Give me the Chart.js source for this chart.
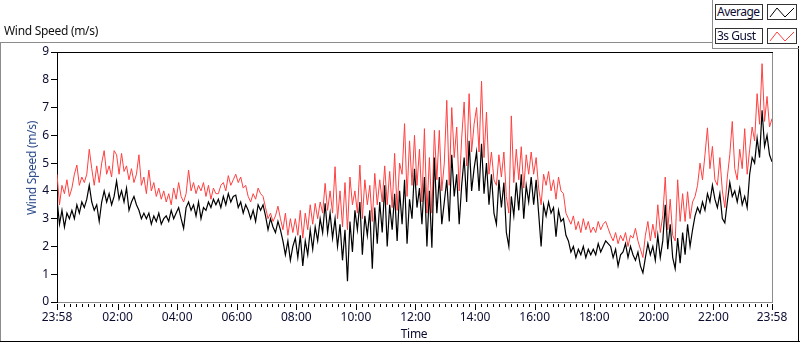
<!DOCTYPE html>
<html>
<head>
<meta charset="utf-8">
<script src="https://cdn.jsdelivr.net/npm/chart.js@4/dist/chart.umd.min.js"></script>
<style>
  html, body { margin: 0; padding: 0; background: #fff; }
  #wrap { position: relative; width: 800px; height: 342px; overflow: hidden; font-family: "Noto Sans", "Open Sans", sans-serif; }
  #c { position: absolute; left: 0; top: 0; }
  .ln { position: absolute; }
  .txt { position: absolute; font-size: 12px; line-height: 14px; white-space: nowrap; color: #111; letter-spacing: -0.3px; }
  .lbox { position: absolute; box-sizing: border-box; border: 1px solid #333; background: #fff; font-size: 12px; line-height: 13px; padding-left: 1px; color: #0c0c30; white-space: nowrap; letter-spacing: -0.5px; overflow: hidden; }
  .ibox { position: absolute; box-sizing: border-box; border: 1px solid #333; background: #fff; }
</style>
</head>
<body>
<div id="wrap">
  <canvas id="c" width="800" height="342"></canvas>
  <!-- outer frame -->
  <div class="ln" style="left:0;top:42px;width:712px;height:1px;background:#8c8c8c"></div>
  <div class="ln" style="left:0;top:42px;width:1px;height:300px;background:#8c8c8c"></div>
  <div class="ln" style="left:0;top:341px;width:800px;height:1px;background:#000"></div>
  <div class="ln" style="left:798px;top:46px;width:1px;height:296px;background:#000"></div>
  <!-- legend panel -->
  <div class="ln" style="left:712px;top:0;width:1px;height:49px;background:#8c8c8c"></div>
  <div class="ln" style="left:712px;top:48px;width:87px;height:1px;background:#8c8c8c"></div>
  <div class="lbox" style="left:715px;top:4px;width:48px;height:16px">Average</div>
  <div class="ibox" style="left:767px;top:4px;width:30px;height:16px">
    <svg width="28" height="14" style="position:absolute;left:0;top:0"><polyline points="2,12 9,3 17,12 26,3" fill="none" stroke="#000" stroke-width="1"/></svg>
  </div>
  <div class="lbox" style="left:715px;top:28px;width:48px;height:16px">3s Gust</div>
  <div class="ibox" style="left:767px;top:28px;width:30px;height:16px">
    <svg width="28" height="14" style="position:absolute;left:0;top:0"><polyline points="2,12 9,3 17,12 26,3" fill="none" stroke="#ff4040" stroke-width="1"/></svg>
  </div>
  <!-- titles -->
  <div class="txt" style="left:4px;top:24px">Wind Speed (m/s)</div>
  <div class="txt" style="left:32px;top:168px;transform:translate(-50%,-50%) rotate(-90deg);color:#2a4a8a">Wind Speed (m/s)</div>
  <div class="txt" style="left:414px;top:327px;transform:translateX(-50%);color:#0c0c30">Time</div>
</div>
<script>
// Time axis (hours since midnight); first sample at 23:58 the previous day, every 5 minutes
const startHour = -2 / 60;
const stepHour = 5 / 60;
const axisMin = -2 / 60;
const axisMax = 24 - 2 / 60;
const xTickHours = [2, 4, 6, 8, 10, 12, 14, 16, 18, 20, 22];
const yTicks = [0, 1, 2, 3, 4, 5, 6, 7, 8, 9];
const seriesNames = ["Average", "3s Gust"];

// Average wind speed (m/s), one row per hour, 5-minute samples
const average = [
  3.7, 2.8, 3.3, 2.7, 3.2, 3.0, 3.3, 3.0, 3.5, 3.2, 3.6, 3.4,
  3.7, 4.2, 3.6, 3.3, 3.5, 2.9, 3.6, 4.0, 3.6, 3.9, 3.5, 3.8,
  4.35, 3.7, 4.0, 3.6, 4.1, 3.3, 3.6, 3.8, 3.5, 3.3, 3.0, 3.2,
  3.0, 3.2, 2.8, 3.1, 2.9, 3.2, 2.8, 3.0, 3.1, 2.9, 3.3, 3.0,
  3.2, 3.4, 3.0, 2.65, 3.4, 3.6, 3.3, 3.5, 3.1, 3.6, 3.0, 3.4,
  3.3, 3.6, 3.4, 3.7, 3.5, 3.7, 3.4, 3.8, 3.5, 3.9, 3.6, 3.8,
  3.85, 3.4, 3.6, 3.2, 3.5, 3.3, 3.0, 3.3, 2.9, 3.5, 3.3, 3.5,
  3.1, 2.6, 3.0, 2.7, 2.5, 2.9, 2.6, 2.2, 1.7, 2.2, 1.5, 2.0,
  2.3, 1.6, 2.4, 1.3, 2.2, 1.7, 2.6, 1.9, 2.7, 2.2, 3.0, 2.5,
  3.55, 2.5, 3.2, 2.3, 3.0, 2.0, 2.8, 1.5, 2.6, 0.75, 2.9, 1.8,
  3.3, 2.6, 3.6, 1.7, 3.1, 2.4, 3.3, 1.2, 3.4, 2.1, 3.6, 2.5,
  4.2, 2.0, 3.5, 2.6, 3.9, 2.2, 4.0, 2.8, 4.4, 2.1, 3.7, 3.0,
  4.8, 3.4, 4.1, 2.8, 4.5, 2.0, 4.0, 1.95, 5.2, 3.2, 4.5, 2.8,
  3.6, 4.4, 2.9, 5.3, 3.8, 4.6, 2.8, 4.2, 5.2, 3.6, 5.8, 4.0,
  4.8, 5.4, 4.0, 5.7, 3.9, 5.0, 3.5, 4.6, 3.2, 2.8, 4.4, 3.4,
  4.3, 2.5, 2.0, 3.8, 3.1, 4.3, 3.3, 4.6, 3.0, 4.2, 3.6, 4.5,
  3.5, 4.4, 3.2, 2.0, 3.5, 3.1, 3.6, 3.2, 3.4, 2.35, 3.3, 2.9,
  3.0, 2.4, 2.2, 1.8, 2.0, 1.6, 1.9, 1.7, 2.0, 1.6, 1.9, 1.7,
  1.9, 1.7, 2.1, 1.8, 2.0, 2.2, 2.1, 2.0, 1.6, 1.9, 1.3, 1.7,
  1.8, 2.1, 1.6, 2.0, 1.7, 1.5, 1.8, 1.3, 1.05, 1.6, 2.1, 1.7,
  2.0, 1.5, 2.4, 1.6, 2.2, 3.5, 1.9, 2.8, 1.6, 1.2, 2.3, 1.4,
  2.5, 1.7, 2.8, 2.0, 2.6, 3.1, 3.4, 3.2, 3.6, 3.3, 3.9, 3.6,
  4.2, 3.7, 3.4, 3.9, 3.0, 2.85, 3.6, 4.3, 3.8, 4.0, 3.6, 4.1,
  3.5, 3.8, 3.4, 4.6, 5.2, 5.0, 5.9, 5.2, 6.9, 5.6, 6.0, 5.3, 5.05
];

// 3-second gust (m/s), same sampling
const gust = [
  4.6, 3.5, 4.2, 3.9, 4.4, 3.8, 4.1, 4.6, 4.93, 4.2, 4.5, 4.3,
  4.6, 5.5, 4.8, 4.2, 4.9, 4.3, 5.0, 5.45, 4.6, 4.9, 4.5, 5.45,
  5.3, 4.6, 5.35, 4.7, 4.9, 4.4, 4.8, 4.3, 4.6, 5.3, 4.2, 4.5,
  3.9, 4.75, 4.0, 4.3, 3.8, 4.1, 3.7, 4.0, 3.6, 3.9, 3.5, 4.1,
  3.7, 4.3, 3.8, 3.6, 3.9, 4.75, 4.0, 4.3, 3.9, 4.2, 4.0, 4.3,
  3.8, 4.2, 3.7, 4.1, 3.9, 3.9, 4.2, 4.3, 4.0, 4.55, 4.2, 4.4,
  4.6, 4.3, 4.5, 4.1, 4.2, 3.8, 3.6, 3.9, 3.7, 4.1, 3.9, 3.8,
  3.4, 3.0, 3.2, 2.9, 3.1, 3.45, 3.0, 2.6, 3.2, 2.4, 3.0, 2.5,
  3.0, 2.4, 3.3, 2.3, 3.2, 2.6, 3.5, 2.8, 3.55, 3.0, 3.6, 3.2,
  4.27, 3.3, 4.0, 3.2, 4.87, 3.0, 4.0, 2.7, 4.3, 2.6, 4.5, 3.5,
  4.0, 3.2, 4.93, 3.0, 4.4, 3.5, 4.2, 2.9, 4.63, 3.5, 4.4, 3.6,
  4.9, 3.5, 4.7, 3.4, 5.35, 3.3, 5.0, 4.6, 6.42, 3.8, 5.8, 4.2,
  6.0, 4.2, 5.5, 3.6, 6.24, 3.2, 5.2, 3.2, 6.18, 4.4, 6.18, 4.0,
  5.0, 7.26, 4.2, 7.0, 5.2, 6.3, 4.0, 5.9, 7.2, 4.9, 7.5, 5.4,
  6.4, 7.0, 5.4, 7.95, 5.2, 6.84, 4.6, 5.4, 4.4, 4.2, 5.3, 4.5,
  5.4, 3.8, 3.2, 6.7, 4.3, 5.5, 4.4, 5.59, 4.1, 5.3, 4.6, 5.4,
  4.6, 5.2, 4.1, 3.5, 4.6, 4.2, 4.7, 4.0, 4.4, 3.7, 4.5, 4.0,
  3.9, 3.2, 3.0, 2.8, 3.1, 2.6, 2.9, 2.5, 3.0, 2.6, 2.9, 2.5,
  2.7, 2.5, 2.9, 2.6, 2.8, 2.9, 2.65, 2.4, 2.2, 2.5, 2.1, 2.4,
  2.2, 2.5, 2.0, 2.4, 2.3, 2.65, 2.2, 1.9, 1.6, 2.4, 2.9, 2.2,
  2.8, 2.3, 3.5, 2.5, 3.1, 4.5, 2.6, 3.7, 2.4, 2.2, 4.4, 2.9,
  3.9, 2.9, 3.97, 3.0, 3.6, 3.8, 4.2, 5.0, 4.4, 5.3, 6.27, 4.8,
  5.6, 4.4, 4.2, 5.2, 4.0, 3.4, 4.5, 5.3, 6.5, 4.8, 4.4, 5.5,
  4.8, 6.24, 4.6, 5.5, 6.3, 5.8, 7.5, 6.4, 8.58, 6.5, 7.4, 6.3, 6.6
];

function toPoints(values) {
  return values.map((v, i) => ({ x: startHour + i * stepHour, y: v }));
}
function fmtTime(h) {
  let m = Math.round(h * 60);
  m = ((m % 1440) + 1440) % 1440;
  const hh = Math.floor(m / 60), mm = m % 60;
  return String(hh).padStart(2, "0") + ":" + String(mm).padStart(2, "0");
}

const frameAndTicks = {
  id: "frameAndTicks",
  afterDraw(chart) {
    const { ctx, chartArea: a, scales } = chart;
    const xs = scales.x;
    ctx.save();
    ctx.lineWidth = 1;
    ctx.strokeStyle = "#000";
    ctx.beginPath();
    ctx.moveTo(a.left, Math.round(a.top) + 0.5);
    ctx.lineTo(a.right + 1, Math.round(a.top) + 0.5);
    ctx.stroke();
    ctx.strokeStyle = "#8c8c8c";
    ctx.beginPath();
    ctx.moveTo(Math.round(a.right) + 0.5, a.top + 1);
    ctx.lineTo(Math.round(a.right) + 0.5, a.bottom + 1);
    ctx.stroke();
    ctx.strokeStyle = "#000";
    const y0 = Math.round(a.bottom) + 2;
    const marks = [{ v: axisMin, major: true }, { v: axisMax, major: true }];
    for (let m = 12; m < 1440; m += 12) {
      const h = m / 60;
      if (h > axisMax - 0.05) continue;
      marks.push({ v: h, major: m % 120 === 0 });
    }
    ctx.beginPath();
    marks.forEach(mk => {
      const x = Math.round(xs.getPixelForValue(mk.v)) + 0.5;
      ctx.moveTo(x, y0);
      ctx.lineTo(x, y0 + (mk.major ? 6 : 3));
    });
    ctx.stroke();
    ctx.restore();
  }
};

new Chart(document.getElementById("c"), {
  type: "line",
  data: {
    datasets: [
      { label: seriesNames[0], data: toPoints(average), borderColor: "#000000", borderWidth: 1.2, order: 0 },
      { label: seriesNames[1], data: toPoints(gust), borderColor: "#ff4040", borderWidth: 1, order: 1 }
    ]
  },
  options: {
    responsive: false,
    animation: false,
    events: [],
    layout: { padding: { left: 0, top: 52, right: 28, bottom: 0 } },
    elements: { point: { radius: 0 }, line: { tension: 0, fill: false } },
    plugins: { legend: { display: false }, title: { display: false }, tooltip: { enabled: false } },
    scales: {
      x: {
        type: "linear",
        min: axisMin,
        max: axisMax,
        afterBuildTicks(scale) {
          scale.ticks = [{ value: axisMin }].concat(xTickHours.map(h => ({ value: h }))).concat([{ value: axisMax }]);
        },
        afterFit(scale) { scale.height = 40; },
        ticks: {
          autoSkip: false, maxRotation: 0, minRotation: 0, padding: 1,
          color: "#0c0c30",
          font: { family: "'Noto Sans', 'Open Sans', sans-serif", size: 12 },
          callback: v => fmtTime(v)
        },
        grid: { display: true, drawOnChartArea: false, drawTicks: true, tickLength: 7, color: "rgba(0,0,0,0)" },
        border: { display: true, color: "#8c8c8c", width: 1 }
      },
      y: {
        min: 0,
        max: 9,
        afterBuildTicks(scale) { scale.ticks = yTicks.map(v => ({ value: v })); },
        afterFit(scale) { scale.width = 57; },
        ticks: {
          padding: 2,
          color: "#0c0c30",
          font: { family: "'Noto Sans', 'Open Sans', sans-serif", size: 12 },
          callback: v => String(v)
        },
        grid: { display: true, drawOnChartArea: false, drawTicks: true, tickLength: 6, color: "#000", tickColor: "#000" },
        border: { display: true, color: "#000", width: 1 }
      }
    }
  },
  plugins: [frameAndTicks]
});
</script>
</body>
</html>
